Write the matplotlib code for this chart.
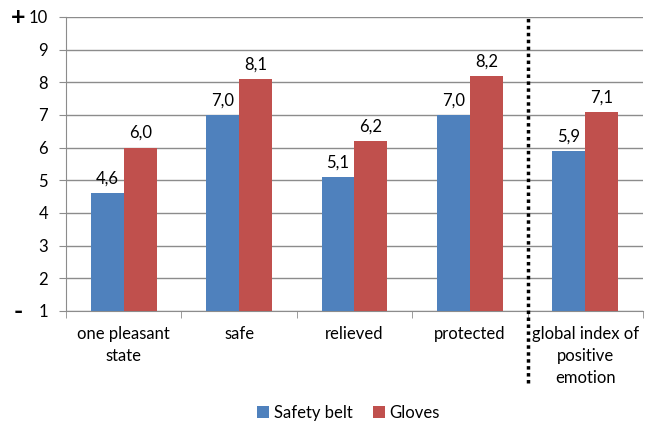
import numpy as np
import matplotlib.pyplot as plt

categories = ['one pleasant\nstate', 'safe', 'relieved', 'protected',
              'global index of\npositive\nemotion']
safety_belt = [4.6, 7.0, 5.1, 7.0, 5.9]
gloves = [6.0, 8.1, 6.2, 8.2, 7.1]
series_names = ['Safety belt', 'Gloves']
yticks = list(range(1, 11))

plt.rcParams['font.family'] = ['Lato', 'DejaVu Sans']

fig = plt.figure(figsize=(6.45, 4.29), dpi=100)
ax = fig.add_axes([0.1023, 0.2751, 0.8946, 0.6853])

x = np.arange(len(categories))
w = 0.285
blue = '#4F81BD'
red = '#C0504D'
ax.bar(x - w / 2, safety_belt, w, bottom=0, color=blue, label=series_names[0], zorder=3)
ax.bar(x + w / 2, gloves, w, bottom=0, color=red, label=series_names[1], zorder=3)

for i in range(len(categories)):
    ax.text(x[i] - w / 2, safety_belt[i] + 0.2, f'{safety_belt[i]:.1f}'.replace('.', ','),
            ha='center', va='bottom', fontsize=12)
    ax.text(x[i] + w / 2, gloves[i] + 0.2, f'{gloves[i]:.1f}'.replace('.', ','),
            ha='center', va='bottom', fontsize=12)

ax.set_ylim(1, 10)
ax.set_xlim(-0.5, len(categories) - 0.5)
ax.set_yticks(yticks)
ax.set_yticklabels([str(t) for t in yticks], fontsize=12)
ax.yaxis.grid(True, color='#8C8C8C', linewidth=1, zorder=0)
ax.tick_params(axis='y', length=5, color='#8C8C8C', pad=8)

# category labels centred, ticks on category boundaries
ax.set_xticks(x)
ax.set_xticklabels(categories, fontsize=12, linespacing=1.45)
ax.tick_params(axis='x', length=0, pad=11)
ax.set_xticks(np.arange(-0.5, len(categories)), minor=True)
ax.tick_params(axis='x', which='minor', length=5, color='#8C8C8C')

for side in ['top', 'right']:
    ax.spines[side].set_visible(False)
for side in ['left', 'bottom']:
    ax.spines[side].set_color('#8C8C8C')

# separator before the global index
ax.axvline(3.5, ymin=-0.245, ymax=1, color='black', linestyle=(0, (1, 1)),
           linewidth=2.5, clip_on=False, zorder=4)

fig.text(0.028, 0.96, '+', fontsize=18, fontweight='bold', ha='center', va='center')
fig.text(0.028, 0.275, '-', fontsize=18, fontweight='bold', ha='center', va='center')

ax.legend(loc='center', bbox_to_anchor=(0.49, -0.347), ncol=2, frameon=False,
          fontsize=12, handlelength=0.7, handleheight=0.7, handletextpad=0.3,
          columnspacing=1.2)

fig.savefig('out.png', dpi=100)
